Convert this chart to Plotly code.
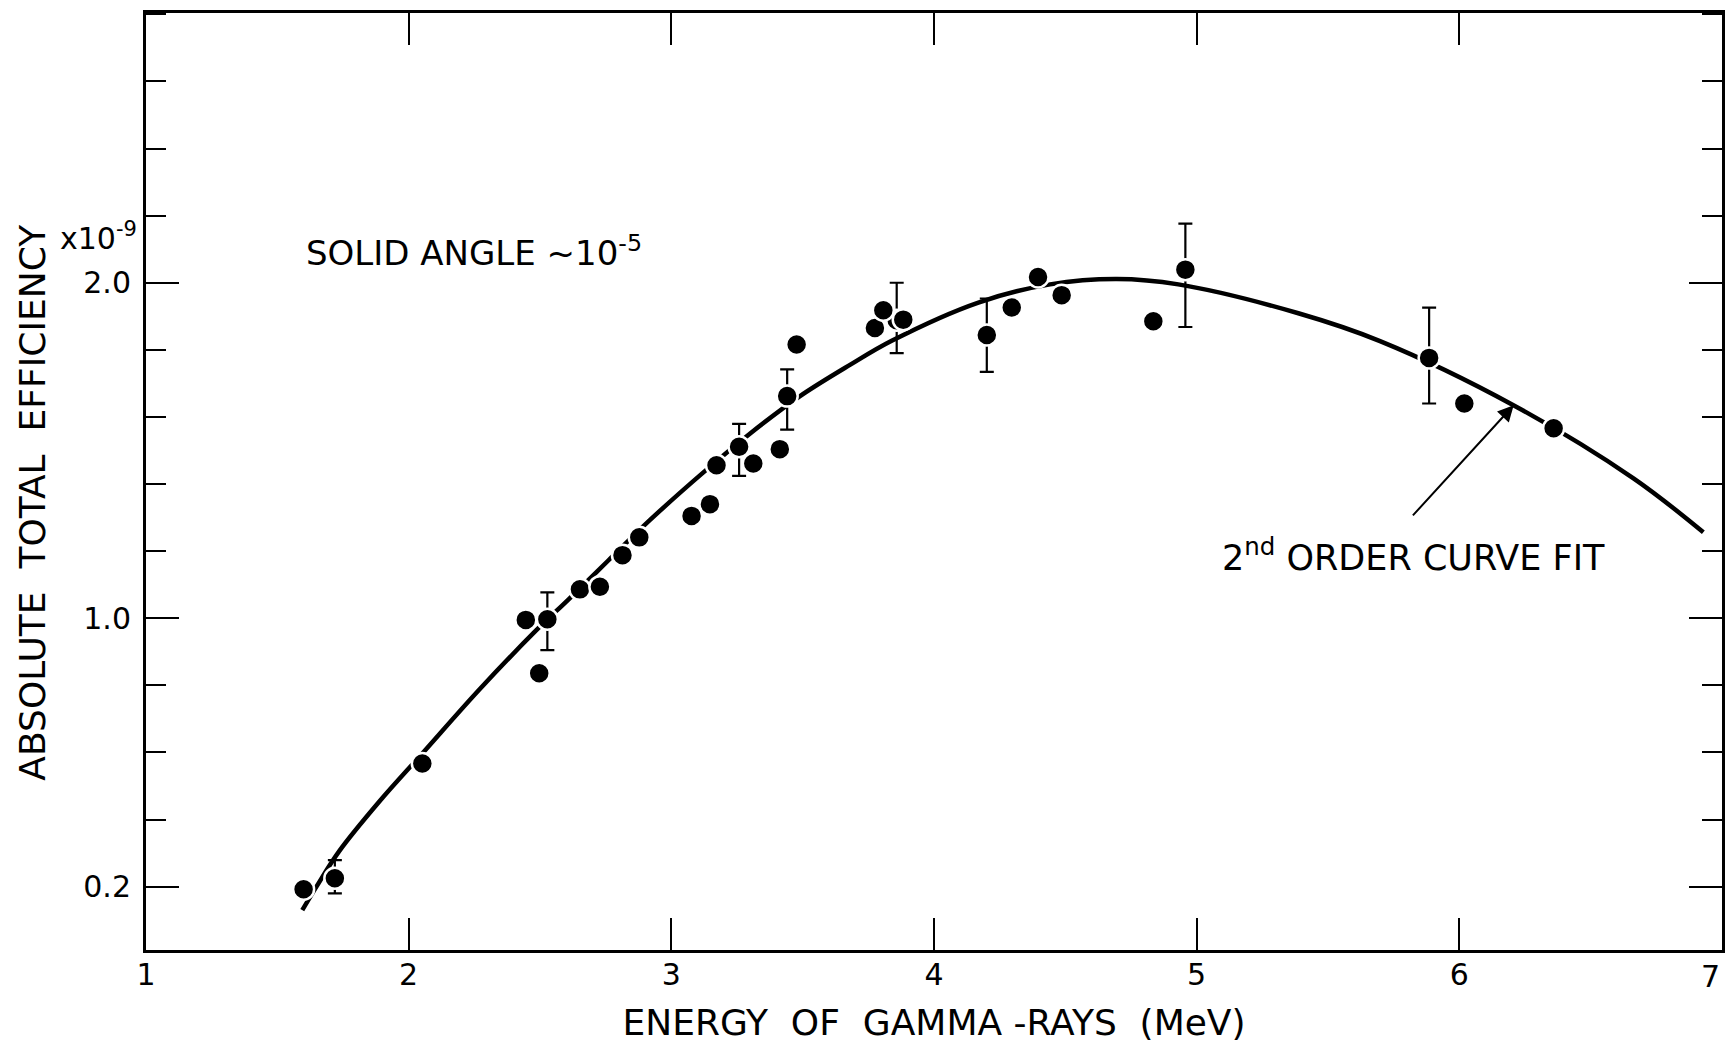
import plotly.graph_objects as go

# ---- data ----
energy = [1.600, 2.052, 2.446, 2.497, 2.652, 2.728, 2.814, 2.878, 3.077, 3.147,
          3.172, 3.312, 3.413, 3.477, 3.775, 3.807, 3.883, 4.296, 4.396, 4.486,
          4.835, 6.019, 6.359]
efficiency = [0.192, 0.567, 0.995, 0.836, 1.086, 1.094, 1.188, 1.241, 1.305, 1.340,
              1.456, 1.461, 1.504, 1.816, 1.865, 1.918, 1.890, 1.926, 2.017, 1.963,
              1.885, 1.640, 1.566]

err_energy = [1.719, 2.528, 3.258, 3.441, 3.858, 4.201, 4.957, 5.885]
err_efficiency = [0.225, 0.997, 1.511, 1.662, 1.888, 1.844, 2.039, 1.776]
err_plus = [0.054, 0.080, 0.068, 0.080, 0.112, 0.109, 0.137, 0.150]
err_minus = [0.045, 0.092, 0.087, 0.100, 0.098, 0.110, 0.171, 0.136]

fit_energy = [1.595, 1.649, 1.735, 1.890, 2.052, 2.271, 2.487, 2.607, 2.760, 2.919,
              3.121, 3.299, 3.490, 3.680, 3.839, 4.169, 4.442, 4.696, 4.930, 5.387,
              5.698, 6.206, 6.663, 6.929]
fit_efficiency = [0.130, 0.200, 0.305, 0.455, 0.597, 0.789, 0.965, 1.055, 1.172, 1.293,
                  1.434, 1.550, 1.662, 1.755, 1.827, 1.941, 1.995, 2.011, 1.995, 1.909,
                  1.826, 1.635, 1.417, 1.256]

x_tick_vals = [1, 2, 3, 4, 5, 6, 7]
x_tick_text = ["1", "2", "3", "4", "5", "6", "7"]
y_tick_vals = [0.2, 1.0, 2.0]
y_tick_text = ["0.2", "1.0", "2.0"]

x_title = "ENERGY\u00a0 OF\u00a0 GAMMA -RAYS\u00a0 (MeV)"
y_title = "ABSOLUTE\u00a0 TOTAL\u00a0 EFFICIENCY"

FONT = "DejaVu Sans"

fig = go.Figure()

fig.add_trace(go.Scatter(
    x=fit_energy, y=fit_efficiency, mode="lines",
    line=dict(color="black", width=4.5, shape="spline", smoothing=1.0),
    showlegend=False, hoverinfo="skip",
))

fig.add_trace(go.Scatter(
    x=err_energy, y=err_efficiency, mode="markers",
    marker=dict(color="black", size=21, line=dict(color="white", width=2.5)),
    error_y=dict(type="data", symmetric=False, array=err_plus, arrayminus=err_minus,
                 color="black", thickness=2.2, width=7),
    showlegend=False,
))

fig.add_trace(go.Scatter(
    x=energy, y=efficiency, mode="markers",
    marker=dict(color="black", size=21, line=dict(color="white", width=2.5)),
    showlegend=False,
))

# the last x tick label sits against the right frame edge, so it is drawn
# right-aligned at its tick value instead of centred
shown_x_text = x_tick_text[:-1] + [""]

fig.update_layout(
    width=1725, height=1043,
    margin=dict(l=146, r=3, t=13, b=93),
    paper_bgcolor="white", plot_bgcolor="white",
    font=dict(family=FONT, color="black"),
    xaxis=dict(
        range=[1, 7], tickvals=x_tick_vals, ticktext=shown_x_text,
        ticks="inside", ticklen=32, tickwidth=2, tickcolor="black",
        showline=True, linecolor="black", linewidth=3, mirror="ticks",
        showgrid=False, zeroline=False, automargin=False,
        tickfont=dict(size=30, family=FONT), ticklabelstandoff=-4,
        title=dict(text=x_title, font=dict(size=36, family=FONT), standoff=24),
    ),
    yaxis=dict(
        range=[0.011, 2.804], tickvals=y_tick_vals, ticktext=y_tick_text,
        ticks="inside", ticklen=33, tickwidth=2, tickcolor="black",
        minor=dict(dtick=0.2, tick0=0, ticks="inside", ticklen=20, tickwidth=2,
                   tickcolor="black", showgrid=False),
        showline=True, linecolor="black", linewidth=3, mirror="ticks",
        showgrid=False, zeroline=False, automargin=False,
        tickfont=dict(size=30, family=FONT), ticklabelstandoff=6,
    ),
)

fig.add_annotation(
    x=x_tick_vals[-1], y=0, xref="x", yref="paper", xanchor="right", yanchor="top",
    yshift=-7, text=x_tick_text[-1], showarrow=False,
    font=dict(size=30, family=FONT),
)
fig.add_annotation(
    x=-0.072, y=1.346, xref="paper", yref="y", xanchor="center", yanchor="middle",
    text=y_title, textangle=-90, showarrow=False,
    font=dict(size=36, family=FONT),
)
fig.add_annotation(
    x=1.60, y=2.096, xref="x", yref="y", xanchor="left", yanchor="middle",
    text="SOLID ANGLE ~10<sup>-5</sup>", showarrow=False,
    font=dict(size=34, family=FONT),
)
fig.add_annotation(
    x=-0.056, y=2.139, xref="paper", yref="y", xanchor="left", yanchor="middle",
    text="x10<sup>-9</sup>", showarrow=False,
    font=dict(size=30, family=FONT),
)
fig.add_annotation(
    x=5.09, y=1.187, xref="x", yref="y", xanchor="left", yanchor="middle",
    text="2<sup>nd</sup> ORDER CURVE FIT", showarrow=False,
    font=dict(size=35, family=FONT),
)
fig.add_annotation(
    x=6.207, y=1.635, xref="x", yref="y",
    ax=5.818, ay=1.302, axref="x", ayref="y",
    text="", showarrow=True, arrowhead=2, arrowsize=1.6, arrowwidth=2,
    arrowcolor="black", standoff=0, startstandoff=0,
)

fig.write_html("out.html")
